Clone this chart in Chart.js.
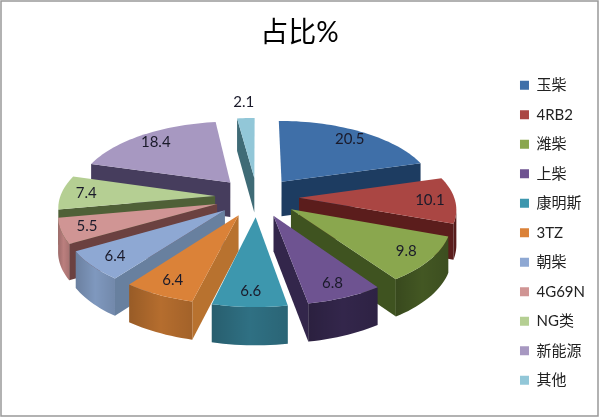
<!DOCTYPE html>
<html>
<head>
<meta charset="utf-8">
<title>占比%</title>
<script src="https://cdn.jsdelivr.net/npm/chart.js@4"></script>
<style>
  html, body { margin: 0; padding: 0; background: #fff; }
  #wrap { position: relative; width: 600px; height: 417px; }
  #grafico { display: block; }
</style>
</head>
<body>
<div id="wrap"><canvas id="grafico" width="600" height="417"></canvas></div>
<script>
const categorias = ["玉柴", "4RB2", "潍柴", "上柴", "康明斯", "3TZ", "朝柴", "4G69N", "NG类", "新能源", "其他"];
const valores = [20.5, 10.1, 9.8, 6.8, 6.6, 6.4, 6.4, 5.5, 7.4, 18.4, 2.1];
const coloresCara = ["#3f6fa8", "#aa4643", "#8aa74e", "#6e5391", "#3d97ae", "#db8238", "#8ea8d3", "#d09594", "#b5cf93", "#a798c1", "#92c7d8"];
const coloresFrente = ["#1d3c61", "#5b1d1c", "#435723", "#33264b", "#2f7083", "#b56d2e", "#7f98be", "#bb7f7e", "#4f6037", "#463d5d", "#3f6b76"];
const coloresLado = ["#1d3c61", "#5b1d1c", "#3f5320", "#33264b", "#2a6677", "#b8722f", "#68809f", "#6b4140", "#4f6037", "#463d5d", "#3f6b76"];

const FUENTE = 'Lato, "Noto Sans CJK SC", sans-serif';
const EXPLOSION = 42;
const RADIO = 155;
const INCLINACION = 0.467;
const DISTANCIA = 1200;
const ALTO = 35;
const CENTRO_X = 257;
const CENTRO_Y = 197;

// proyecta un punto del plano del pastel a la pantalla, con perspectiva
function proyectar(x, y) {
  const f = 1 / (1 - y / DISTANCIA);
  return { x: CENTRO_X + x * f, y: CENTRO_Y + y * INCLINACION * f, h: ALTO * Math.sqrt(f) };
}

function pared(ctx, a, b, color) {
  ctx.beginPath();
  ctx.moveTo(a.x, a.y);
  ctx.lineTo(b.x, b.y);
  ctx.lineTo(b.x, b.y + b.h);
  ctx.lineTo(a.x, a.y + a.h);
  ctx.closePath();
  ctx.fillStyle = color;
  ctx.fill();
}

// pared exterior de una sola pieza, con un degradado suave a los extremos
function paredExterior(ctx, tramo, color) {
  if (tramo.length < 2) return;
  ctx.beginPath();
  tramo.forEach((q, n) => (n ? ctx.lineTo(q.x, q.y) : ctx.moveTo(q.x, q.y)));
  tramo.slice().reverse().forEach((q) => ctx.lineTo(q.x, q.y + q.h));
  ctx.closePath();
  ctx.fillStyle = color;
  ctx.fill();
  const xs = tramo.map((q) => q.x);
  const sombra = ctx.createLinearGradient(Math.min(...xs), 0, Math.max(...xs), 0);
  sombra.addColorStop(0, "rgba(0,0,0,0.16)");
  sombra.addColorStop(0.5, "rgba(0,0,0,0)");
  sombra.addColorStop(1, "rgba(0,0,0,0.1)");
  ctx.fillStyle = sombra;
  ctx.fill();
}

function dibujarPorcion(ctx, arco, i) {
  const { startAngle, endAngle, outerRadius } = arco.getProps(["startAngle", "endAngle", "outerRadius"], true);
  const medio = (startAngle + endAngle) / 2;
  const ox = Math.cos(medio) * arco.options.offset;
  const oy = Math.sin(medio) * arco.options.offset;
  const pasos = Math.max(6, Math.ceil((endAngle - startAngle) * 30));
  const borde = [];
  for (let p = 0; p <= pasos; p++) {
    const t = startAngle + (endAngle - startAngle) * p / pasos;
    borde.push(proyectar(ox + Math.cos(t) * outerRadius, oy + Math.sin(t) * outerRadius));
  }
  const vertice = proyectar(ox, oy);
  const ultimo = borde[borde.length - 1];

  // recorriendo en sentido horario, la pared mira al frente si la arista va hacia la izquierda
  if (borde[0].x < vertice.x - 4) pared(ctx, vertice, borde[0], coloresLado[i]);
  if (vertice.x < ultimo.x - 4) pared(ctx, ultimo, vertice, coloresLado[i]);

  const tramo = [];
  for (let p = 0; p <= pasos; p++) {
    const anterior = p > 0 && borde[p].x < borde[p - 1].x;
    const siguiente = p < pasos && borde[p + 1].x < borde[p].x;
    if (anterior || siguiente) tramo.push(borde[p]);
  }
  paredExterior(ctx, tramo, coloresFrente[i]);

  // cara superior
  ctx.beginPath();
  ctx.moveTo(vertice.x, vertice.y);
  borde.forEach((q) => ctx.lineTo(q.x, q.y));
  ctx.closePath();
  ctx.fillStyle = arco.options.backgroundColor;
  ctx.fill();
}

const pastel3d = {
  id: "pastel3d",
  beforeDatasetsDraw(chart) {
    const ctx = chart.ctx;
    const arcos = chart.getDatasetMeta(0).data;
    const orden = arcos.map((a, i) => i).sort((p, q) => {
      const mp = (arcos[p].startAngle + arcos[p].endAngle) / 2;
      const mq = (arcos[q].startAngle + arcos[q].endAngle) / 2;
      return Math.sin(mp) - Math.sin(mq);
    });
    ctx.save();
    orden.forEach((i) => dibujarPorcion(ctx, arcos[i], i));

    ctx.font = "15px " + FUENTE;
    ctx.fillStyle = "#1a1a2a";
    ctx.textAlign = "center";
    ctx.textBaseline = "middle";
    arcos.forEach((arco, i) => {
      const medio = (arco.startAngle + arco.endAngle) / 2;
      const r = arco.options.offset + arco.outerRadius * (i === arcos.length - 1 ? 1.3 : 0.84);
      const q = proyectar(Math.cos(medio) * r, Math.sin(medio) * r);
      ctx.fillText(valores[i].toFixed(1), q.x, q.y);
    });
    ctx.restore();
    return false;
  },
  beforeDraw(chart) {
    const ctx = chart.ctx;
    ctx.save();
    ctx.fillStyle = "#fff";
    ctx.fillRect(0, 0, chart.width, chart.height);
    ctx.strokeStyle = "#999";
    ctx.lineWidth = 1.5;
    ctx.strokeRect(1, 1, chart.width - 3, chart.height - 2);
    ctx.restore();
  },
};

new Chart(document.getElementById("grafico"), {
  type: "pie",
  plugins: [pastel3d],
  data: {
    labels: categorias,
    datasets: [
      {
        data: valores,
        backgroundColor: coloresCara,
        borderWidth: 0,
        offset: EXPLOSION,
      },
    ],
  },
  options: {
    responsive: false,
    animation: false,
    radius: RADIO,
    layout: { padding: { left: 4, right: 5, bottom: 11 } },
    plugins: {
      title: {
        display: true,
        text: "占比%",
        color: "#000",
        font: { family: FUENTE, size: 28, weight: "normal" },
        padding: { top: 16, bottom: 10 },
      },
      legend: {
        position: "right",
        fullSize: false,
        labels: {
          color: "#222",
          font: { family: FUENTE, size: 15 },
          boxWidth: 9,
          boxHeight: 9,
          padding: 14.5,
        },
      },
      tooltip: { enabled: false },
    },
  },
});
</script>
</body>
</html>
